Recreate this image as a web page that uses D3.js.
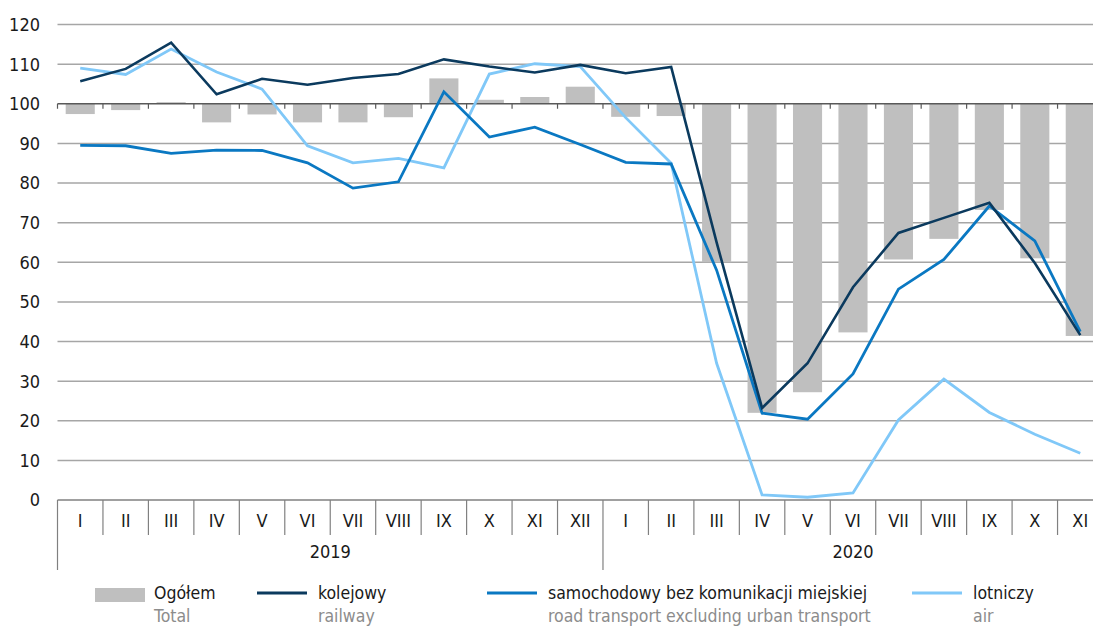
<!DOCTYPE html>
<html>
<head>
<meta charset="utf-8">
<script src="https://cdn.jsdelivr.net/npm/d3@7"></script>
<style>
  body { margin: 0; background: #fff; }
  svg text { font-family: "Liberation Sans Narrow", "DejaVu Sans Condensed", sans-serif; }
</style>
</head>
<body>
<div id="chart"></div>
<script>
const months = ["I","II","III","IV","V","VI","VII","VIII","IX","X","XI","XII",
                "I","II","III","IV","V","VI","VII","VIII","IX","X","XI"]
const years = [{ label: "2019", from: 0, to: 12 }, { label: "2020", from: 12, to: 23 }]

// Ogółem / Total (bars drawn from the 100 baseline)
const total = [97.4, 98.4, 100.4, 95.3, 97.3, 95.3, 95.3, 96.6, 106.4, 101.0, 101.7, 104.3,
               96.7, 96.9, 60.0, 22.0, 27.2, 42.3, 60.7, 65.9, 73.2, 61.0, 41.4]
// kolejowy / railway
const railway = [105.7, 108.8, 115.4, 102.4, 106.3, 104.8, 106.5, 107.5, 111.2, 109.4, 107.9, 109.8,
                 107.7, 109.3, 65.0, 23.2, 34.5, 53.7, 67.4, 71.2, 75.0, 59.8, 41.6]
// samochodowy bez komunikacji miejskiej / road transport excluding urban transport
const road = [89.5, 89.4, 87.5, 88.3, 88.2, 85.1, 78.7, 80.3, 103.0, 91.6, 94.1, 89.7,
              85.2, 84.8, 58.0, 21.9, 20.4, 31.8, 53.2, 60.7, 74.2, 65.4, 42.5]
// lotniczy / air
const air = [109.0, 107.4, 113.8, 108.0, 103.7, 89.4, 85.1, 86.2, 83.8, 107.5, 110.1, 109.4,
             96.5, 85.0, 34.5, 1.3, 0.7, 1.8, 20.2, 30.5, 22.1, 16.6, 11.8]

const yTicks = [0, 10, 20, 30, 40, 50, 60, 70, 80, 90, 100, 110, 120]

const svgWidth = 1093, svgHeight = 628
const svg = d3.select("#chart").append("svg")
    .attr("width", svgWidth)
    .attr("height", svgHeight)

const idx = d3.range(months.length)
const x = d3.scaleBand().domain(idx).range([57.5, 1103]).paddingInner(0.36).paddingOuter(0.18)
const xEdge = i => 57.5 + i * (1103 - 57.5) / months.length
const xMid = i => x(i) + x.bandwidth() / 2
const y = d3.scaleLinear().domain([0, 120]).range([500, 24.5])

// gridlines
svg.append("g").selectAll("line")
    .data(yTicks.filter(t => t !== 0 && t !== 100))
    .enter().append("line")
    .attr("x1", 57.5).attr("x2", svgWidth)
    .attr("y1", d => y(d)).attr("y2", d => y(d))
    .style("stroke", "#a6a6a6")
    .style("stroke-width", "1.5px")

// y tick labels
svg.append("g").selectAll("text")
    .data(yTicks)
    .enter().append("text")
    .attr("x", 40)
    .attr("y", d => y(d))
    .attr("dy", "0.36em")
    .attr("text-anchor", "end")
    .style("font-size", "18px")
    .style("fill", "#1a1a1a")
    .text(d => d)

// bars from 100
svg.append("g").selectAll("rect")
    .data(total)
    .enter().append("rect")
    .attr("x", (d, i) => x(i))
    .attr("width", x.bandwidth())
    .attr("y", d => y(Math.max(d, 100)))
    .attr("height", d => Math.abs(y(d) - y(100)))
    .style("fill", "#bfbfbf")

// axis at 100 with ticks
svg.append("line")
    .attr("x1", 57.5).attr("x2", svgWidth)
    .attr("y1", y(100)).attr("y2", y(100))
    .style("stroke", "#595959")
    .style("stroke-width", "1.5px")
svg.append("g").selectAll("line")
    .data(d3.range(months.length + 1))
    .enter().append("line")
    .attr("x1", d => xEdge(d)).attr("x2", d => xEdge(d))
    .attr("y1", y(100)).attr("y2", y(100) + 5)
    .style("stroke", "#595959")
    .style("stroke-width", "1.2px")

// bottom category axis
svg.append("line")
    .attr("x1", 57.5).attr("x2", svgWidth)
    .attr("y1", y(0)).attr("y2", y(0))
    .style("stroke", "#808080")
    .style("stroke-width", "1.5px")
svg.append("g").selectAll("line")
    .data(d3.range(months.length + 1))
    .enter().append("line")
    .attr("x1", d => xEdge(d)).attr("x2", d => xEdge(d))
    .attr("y1", y(0))
    .attr("y2", d => (d === 0 || d === 12 || d === 23) ? 570 : 535)
    .style("stroke", "#808080")
    .style("stroke-width", "1.2px")

svg.append("g").selectAll("text")
    .data(months)
    .enter().append("text")
    .attr("x", (d, i) => xMid(i))
    .attr("y", 527)
    .attr("text-anchor", "middle")
    .style("font-size", "18px")
    .style("fill", "#1a1a1a")
    .text(d => d)

svg.append("g").selectAll("text")
    .data(years)
    .enter().append("text")
    .attr("x", d => (xEdge(d.from) + xEdge(d.to)) / 2)
    .attr("y", 558)
    .attr("text-anchor", "middle")
    .style("font-size", "18px")
    .style("fill", "#1a1a1a")
    .text(d => d.label)

// lines
const series = [
    { values: air, color: "#80c8f8", width: 2.8 },
    { values: road, color: "#0a78c2", width: 2.8 },
    { values: railway, color: "#0b3a5e", width: 2.6 }
]
const line = d3.line().x((d, i) => xMid(i)).y(d => y(d))
svg.append("g").selectAll("path")
    .data(series)
    .enter().append("path")
    .attr("d", d => line(d.values))
    .style("fill", "none")
    .style("stroke", d => d.color)
    .style("stroke-width", d => d.width + "px")
    .style("stroke-linejoin", "miter")

// legend
const legend = svg.append("g")
legend.append("rect")
    .attr("x", 95).attr("y", 588).attr("width", 50).attr("height", 14)
    .style("fill", "#bfbfbf")

const legendLines = [
    { x: 257, color: "#0b3a5e", pl: "kolejowy", en: "railway" },
    { x: 487, color: "#0a78c2", pl: "samochodowy bez komunikacji miejskiej", en: "road transport excluding urban transport" },
    { x: 912, color: "#80c8f8", pl: "lotniczy", en: "air" }
]
legend.selectAll("line")
    .data(legendLines)
    .enter().append("line")
    .attr("x1", d => d.x).attr("x2", d => d.x + 50)
    .attr("y1", 593).attr("y2", 593)
    .style("stroke", d => d.color)
    .style("stroke-width", "3px")

const legendText = [{ x: 154, pl: "Ogółem", en: "Total" }]
    .concat(legendLines.map(d => ({ x: d.x + 61, pl: d.pl, en: d.en })))
legend.selectAll("text.pl")
    .data(legendText)
    .enter().append("text")
    .attr("class", "pl")
    .attr("x", d => d.x).attr("y", 599)
    .style("font-size", "17.5px")
    .style("fill", "#1a1a1a")
    .text(d => d.pl)
legend.selectAll("text.en")
    .data(legendText)
    .enter().append("text")
    .attr("class", "en")
    .attr("x", d => d.x).attr("y", 622)
    .style("font-size", "17.5px")
    .style("fill", "#8c8c8c")
    .text(d => d.en)
</script>
</body>
</html>
